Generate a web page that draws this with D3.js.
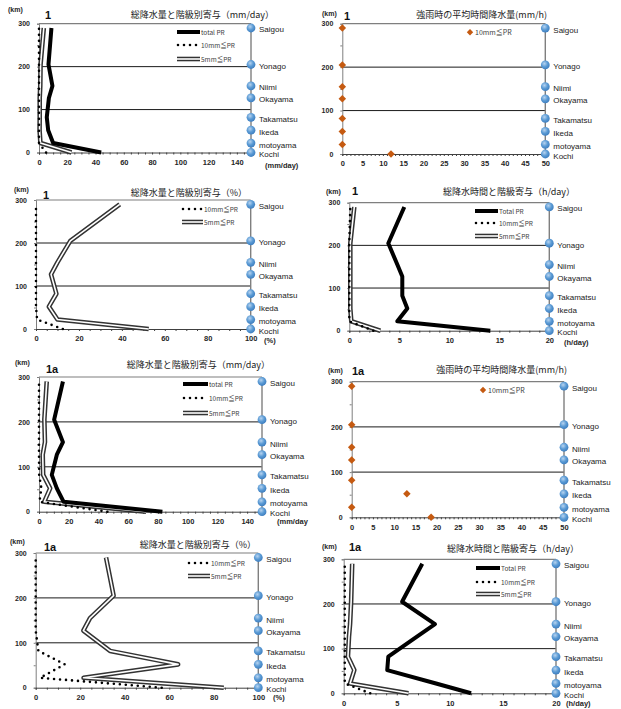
<!DOCTYPE html>
<html>
<head>
<meta charset="utf-8">
<script src="https://cdn.jsdelivr.net/npm/d3@7"></script>
<style>
body { margin: 0; background: #fff; }
text { font-family: "Liberation Sans", Arial, sans-serif; }
.jp { font-family: "Noto Sans CJK JP", sans-serif; }
</style>
</head>
<body>
<script>
// stations along the route (km from Kochi)
const stations = ["Kochi", "motoyama", "Ikeda", "Takamatsu", "Okayama", "Niimi", "Yonago", "Saigou"]
const stationKm = [0, 22, 52, 82, 127, 155, 205, 290]

// case 1
const tot1Mm = [44, 10, 6.5, 5.5, 7, 9.5, 6.7, 8.8]
const r10_1Mm = [5, 0, 0, 0, 0, 0, 0, 0]
const r5_1Mm = [23, 1, 0.4, 0.5, 0.5, 0.9, 1.1, 3.4]
const r10_1Mmh = [12, 0, 0, 0, 0, 0, 0, 0]
const r10_1Pct = [12.5, 0.5, 0, 0, 0, 0, 0, 0]
const r5_1Pct = [52.5, 10, 6, 9.5, 7, 10, 16, 39]
const tot1H = [14.1, 4.8, 5.8, 5.3, 5.3, 4.8, 3.9, 5.5]
const r10_1H = [2.4, 0, 0, 0, 0, 0, 0, 0.1]
const r5_1H = [3.1, 0.2, 0.1, 0.1, 0.1, 0.1, 0.1, 0.5]

// case 1a
const tot1aMm = [83, 16.6, 12, 8.6, 12, 16.1, 10.2, 16.1]
const r10_1aMm = [46, 0.3, 1.6, 0.1, 0, 0, 0, 0]
const r5_1aMm = [72, 3.5, 7.5, 2.8, 2.5, 4, 3.6, 5.2]
const r10_1aMmh = [18.7, 0, 13, 0, 0, 0, 0, 0]
const r10_1aPct = [56.6, 2, 13, 1.2, 0, 0, 0, 0]
const r5_1aPct = [84.5, 21.5, 64, 33.4, 21.4, 24.4, 35, 31.6]
const tot1aH = [12, 8.7, 4.1, 4.2, 6.9, 8.6, 5.5, 7.4]
const r10_1aH = [2.5, 0.1, 0.1, 0.1, 0.1, 0.1, 0.1, 0.1]
const r5_1aH = [6.1, 0.6, 1.0, 0.4, 0.5, 0.6, 0.7, 0.8]

const titleMm = "総降水量と階級別寄与（mm/day）"
const titlePct = "総降水量と階級別寄与（%）"
const titleMmh = "強雨時の平均時間降水量(mm/h)"
const titleH = "総降水時間と階級寄与（h/day）"
const lblTotal = "total PR", lblTotal2 = "Total PR", lbl10 = "10mm≦PR", lbl5 = "5mm≦PR"

const svg = d3.select('body').append('svg')
  .attr('width', 621).attr('height', 709)

let defs = svg.append('defs')
defs.append('clipPath').attr('id', 'clipL')
  .append('rect').attr('x', 0).attr('y', 0).attr('width', 310).attr('height', 709)
let grad = defs.append('radialGradient').attr('id', 'ball')
  .attr('cx', '40%').attr('cy', '35%').attr('r', '65%')
grad.append('stop').attr('offset', '0%').attr('stop-color', '#b7d3ef')
grad.append('stop').attr('offset', '55%').attr('stop-color', '#5b9bd5')
grad.append('stop').attr('offset', '100%').attr('stop-color', '#3f7fc0')

function rows(arr) {
  return stationKm.map((km, i) => ({ km, v: arr[i] }))
}

function drawTotal(g, path) {
  g.append('path').attr('d', path).attr('fill', 'none')
    .attr('stroke', '#000').attr('stroke-width', 4).attr('stroke-linejoin', 'round')
}
function drawDots(g, path) {
  g.append('path').attr('d', path).attr('fill', 'none')
    .attr('stroke', '#000').attr('stroke-width', 2.6)
    .attr('stroke-linecap', 'round').attr('stroke-dasharray', '0,6')
}
function drawDouble(g, path) {
  g.append('path').attr('d', path).attr('fill', 'none')
    .attr('stroke', '#333').attr('stroke-width', 4.6).attr('stroke-linejoin', 'round')
  g.append('path').attr('d', path).attr('fill', 'none')
    .attr('stroke', '#fff').attr('stroke-width', 1.6).attr('stroke-linejoin', 'round')
}
function diamond(g, cx, cy, size) {
  g.append('path')
    .attr('d', d3.symbol(d3.symbolDiamond2, size)())
    .attr('transform', `translate(${cx},${cy})`)
    .attr('fill', '#c55a11')
}

function panel(p) {
  let g = svg.append('g')
  if (p.left) g.attr('clip-path', 'url(#clipL)')

  let x = d3.scaleLinear().domain([0, p.xmax]).range(p.xr)
  let y = d3.scaleLinear().domain([0, 300]).range(p.yr)

  // horizontal grid at 100 / 200
  g.append('g').selectAll('line').data([100, 200]).join('line')
    .attr('x1', x(0)).attr('x2', x(p.xmax))
    .attr('y1', d => y(d)).attr('y2', d => y(d))
    .attr('stroke', '#1a1a1a').attr('stroke-width', 1)
  // top border
  g.append('line')
    .attr('x1', x(0)).attr('x2', x(p.xmax)).attr('y1', y(300)).attr('y2', y(300))
    .attr('stroke', '#7f7f7f').attr('stroke-width', 1.2)

  // y axis
  g.append('g').attr('transform', `translate(${x(0)},0)`)
    .call(d3.axisLeft(y).tickValues(d3.range(0, 301, 50)).tickSize(2).tickFormat(''))
    .call(a => a.selectAll('path,line').attr('stroke', '#7f7f7f'))
  g.append('g').attr('transform', `translate(${x(0)},0)`)
    .call(d3.axisLeft(y).tickValues([0, 100, 200, 300]).tickSize(0).tickPadding(9))
    .call(a => a.select('.domain').remove())
    .call(a => a.selectAll('text').attr('font-size', 7).attr('font-weight', 'bold')
      .attr('fill', '#262626').attr('font-family', '"Liberation Sans", Arial, sans-serif'))

  // x axis
  g.append('g').attr('transform', `translate(0,${y(0)})`)
    .call(d3.axisBottom(x).tickValues(d3.range(0, p.xmax + 0.001, p.minor)).tickSize(2).tickFormat(''))
    .call(a => a.selectAll('path,line').attr('stroke', '#404040'))
  g.append('g').attr('transform', `translate(0,${y(0)})`)
    .call(d3.axisBottom(x).tickValues(p.xticks).tickSize(0).tickPadding(7))
    .call(a => a.select('.domain').remove())
    .call(a => a.selectAll('text').attr('font-size', 7.5).attr('font-weight', 'bold')
      .attr('fill', '#262626').attr('font-family', '"Liberation Sans", Arial, sans-serif'))

  // right axis with stations
  g.append('line')
    .attr('x1', x(p.xmax)).attr('x2', x(p.xmax)).attr('y1', y(300)).attr('y2', y(0))
    .attr('stroke', '#7f7f7f').attr('stroke-width', 1.4)

  let line = d3.line().x(d => x(d.v)).y(d => y(d.km))
  if (p.r5) drawDouble(g, line(rows(p.r5)))
  if (p.tot) drawTotal(g, line(rows(p.tot)))
  if (p.r10 && !p.scatter) drawDots(g, line(rows(p.r10)))
  if (p.scatter) {
    for (let d of rows(p.r10)) diamond(g, x(d.v), y(d.km), 36)
  }

  g.append('g').selectAll('circle').data(stationKm).join('circle')
    .attr('cx', x(p.xmax)).attr('cy', d => y(d)).attr('r', 4.4)
    .attr('fill', 'url(#ball)')
  g.append('g').selectAll('text').data(stations).join('text')
    .attr('x', x(p.xmax) + 8).attr('y', (d, i) => y(stationKm[i]) + 4.5)
    .attr('font-size', 8).attr('fill', '#1a1a1a')
    .text(d => d)

  // texts
  g.append('text').attr('class', 'jp').attr('x', p.title[1]).attr('y', p.title[2])
    .attr('text-anchor', 'end').attr('font-size', 9).attr('fill', '#1a1a1a')
    .text(p.title[0])
  g.append('text').attr('x', p.tag[1]).attr('y', p.tag[2])
    .attr('font-size', 11).attr('font-weight', 'bold').attr('fill', '#111')
    .text(p.tag[0])
  g.append('text').attr('x', p.km[0]).attr('y', p.km[1])
    .attr('font-size', 7).attr('font-weight', 'bold').attr('fill', '#262626')
    .text('(km)')
  if (p.unit) {
    g.append('text').attr('x', p.unit[1]).attr('y', p.unit[2])
      .attr('font-size', 7.5).attr('font-weight', 'bold').attr('fill', '#262626')
      .text(p.unit[0])
  }

  // legend
  if (p.leg) {
    let [x1, x2, ys] = p.leg
    let items = []
    if (p.tot) items.push(['tot', p.totLabel])
    items.push(['r10', lbl10])
    items.push(['r5', lbl5])
    items.forEach(([k, label], i) => {
      let yy = ys[i]
      let pth = d3.line()([[x1, yy], [x2, yy]])
      if (k === 'tot') drawTotal(g, pth)
      if (k === 'r10') drawDots(g, d3.line()([[x1 + 1, yy], [x2, yy]]))
      if (k === 'r5') drawDouble(g, pth)
      g.append('text').attr('class', 'jp').attr('x', x2 + 1).attr('y', yy + 2.5)
        .attr('font-size', 6.5).attr('fill', '#404040').text(label)
    })
  }
  if (p.dleg) {
    let [dx, dy] = p.dleg
    diamond(g, dx, dy, 26)
    g.append('text').attr('class', 'jp').attr('x', dx + 5).attr('y', dy + 2.5)
      .attr('font-size', 7).attr('fill', '#404040').text(lbl10)
  }
}

panel({ left: true, xmax: 150, xr: [39, 251], yr: [152.5, 23.7], minor: 5,
  xticks: d3.range(0, 141, 20), tot: tot1Mm, r10: r10_1Mm, r5: r5_1Mm, totLabel: lblTotal,
  title: [titleMm, 274, 18], tag: ['1', 45, 19], km: [8, 12], unit: ['(mm/day)', 265, 168],
  leg: [177, 200, [32, 45, 59]] })

panel({ xmax: 50, xr: [342.3, 545.3], yr: [154, 23.7], minor: 1, scatter: true,
  xticks: d3.range(0, 51, 5), r10: r10_1Mmh,
  title: [titleMmh, 547, 18], tag: ['1', 344, 20], km: [322, 16], dleg: [470, 32.3] })

panel({ left: true, xmax: 100, xr: [36, 250.7], yr: [329, 200], minor: 5,
  xticks: d3.range(0, 101, 20), r10: r10_1Pct, r5: r5_1Pct,
  title: [titlePct, 247, 196], tag: ['1', 43, 199], km: [14, 192], unit: ['(%)', 264, 343],
  leg: [182, 203, [209, 222]] })

panel({ xmax: 20, xr: [349.3, 549.3], yr: [330.7, 202.7], minor: 1,
  xticks: d3.range(0, 21, 5), tot: tot1H, r10: r10_1H, r5: r5_1H, totLabel: lblTotal2,
  title: [titleH, 575, 195], tag: ['1', 352, 195], km: [326, 194], unit: ['(h/day)', 564, 345],
  leg: [475, 498, [211, 223, 236]] })

panel({ left: true, xmax: 150, xr: [39, 262], yr: [511.7, 377], minor: 5,
  xticks: d3.range(0, 141, 20), tot: tot1aMm, r10: r10_1aMm, r5: r5_1aMm, totLabel: lblTotal,
  title: [titleMm, 270, 368], tag: ['1a', 46, 373], km: [15, 365], unit: ['(mm/day', 277, 524],
  leg: [183, 208, [384, 398, 413]] })

panel({ xmax: 50, xr: [351.7, 564], yr: [517.3, 381.7], minor: 1, scatter: true,
  xticks: d3.range(0, 51, 5), r10: r10_1aMmh,
  title: [titleMmh, 567, 373], tag: ['1a', 352, 375], km: [328, 373], dleg: [483, 390] })

panel({ left: true, xmax: 100, xr: [35.7, 258.3], yr: [687.7, 553], minor: 5,
  xticks: d3.range(0, 101, 20), r10: r10_1aPct, r5: r5_1aPct,
  title: [titlePct, 256, 548], tag: ['1a', 44, 551], km: [10, 544], unit: ['(%)', 273, 700],
  leg: [188, 210, [563, 576]] })

panel({ xmax: 20, xr: [343.7, 556], yr: [693.3, 559.3], minor: 1,
  xticks: d3.range(0, 21, 5), tot: tot1aH, r10: r10_1aH, r5: r5_1aH, totLabel: lblTotal2,
  title: [titleH, 579, 552], tag: ['1a', 349, 551], km: [322, 549], unit: ['(h/day)', 566, 706],
  leg: [476, 500, [568, 582, 594]] })
</script>
</body>
</html>
